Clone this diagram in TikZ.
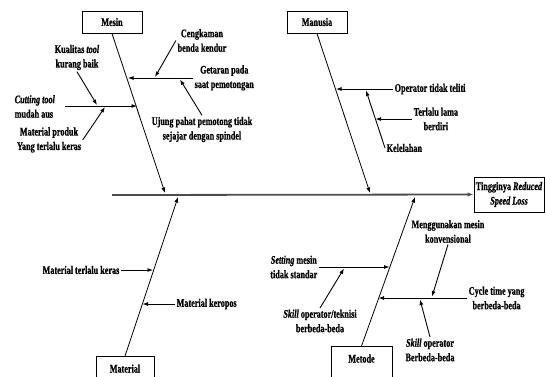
\documentclass[tikz,border=0pt]{standalone}
\usepackage{fontspec}
\setmainfont{Liberation Serif}[FakeStretch=0.71, BoldFeatures={FakeBold=0.8}, BoldItalicFeatures={FakeBold=0.8}]
\usepackage{tikz}
\usetikzlibrary {arrows.meta}
\usetikzlibrary{calc}

\tikzset{
	teks/.style={font=\fontsize{11.5}{14.5}\selectfont\bfseries, align=center, inner sep=1.5pt},
	kotak/.style={teks, draw, line width=1pt, minimum width=60pt, minimum height=22pt, inner sep=0pt},
	kotakbawah/.style={kotak, anchor=north, text height=14pt, text depth=24pt, inner ysep=2pt},
	panah/.style={-{Latex[length=5.5pt,width=4pt]}, line width=0.9pt},
	tulang/.style={-{Latex[length=5.5pt,width=4pt]}, line width=0.8pt},
}

\begin{document}
\begin{tikzpicture}[x=1pt, y=-1pt]
	\useasboundingbox (0, 0) rectangle (545, 376);

	\node[kotak, minimum width=70pt, minimum height=35pt] (akibat) at (509, 194.5) {Tingginya \textit{Reduced}\\\textit{Speed Loss}};
	\coordinate (ekor) at (112, 195);
	\draw[-{Latex[length=6pt,width=4.5pt]}, line width=1.8pt, black!70] (ekor) -- (akibat.west);

	\node[kotak] (mesin) at (112, 22) {Mesin};
	\node[kotak] (manusia) at (317, 22) {Manusia};
	\node[kotakbawah, minimum width=58pt] (material) at (125, 356) {Material};
	\node[kotakbawah, minimum width=61pt] (metode) at (361.5, 346) {Metode};

	\coordinate (m) at (165, 193);
	\coordinate (n) at (370, 193);
	\coordinate (k) at (178, 197);
	\coordinate (d) at (415, 197);
	\draw[tulang] (mesin.south) -- (m);
	\draw[tulang] (manusia.south) -- (n);
	\draw[tulang] (material.north) -- (k);
	\draw[tulang] (metode.north) -- (d);

	\node[teks, anchor=west] (getaran) at (193, 78) {Getaran pada\\saat pemotongan};
	\coordinate (m1) at (128, 78);
	\draw[panah] (getaran.west) -- (m1);
	\node[teks] (cengkaman) at (202, 40.5) {Cengkaman\\benda kendur};
	\coordinate (m1a) at (155, 77);
	\draw[panah] (cengkaman.west) -- (m1a);
	\node[teks] (ujung) at (202, 129.5) {Ujung pahat pemotong tidak\\sejajar dengan spindel};
	\coordinate (m1b) at (180, 79.5);
	\draw[panah] (ujung.north) -- (m1b);

	\node[teks, align=left, anchor=west] (cutting) at (13, 106.5) {\textit{Cutting tool}\\mudah aus};
	\coordinate (c0) at (65, 106);
	\coordinate (m2) at (137, 106);
	\draw[panah] (c0) -- (m2);
	\node[teks] (kualitas) at (77, 57.5) {Kualitas \textit{tool}\\kurang baik};
	\coordinate (m2a) at (97, 105);
	\draw[panah] (kualitas.south) -- (m2a);
	\node[teks] (produk) at (49, 140) {Material produk\\Yang terlalu keras};
	\coordinate (m2b) at (105, 107);
	\draw[panah] (produk.east) -- (m2b);

	\node[teks, anchor=west] (operator) at (393, 89) {Operator tidak teliti};
	\coordinate (n1) at (336, 89);
	\draw[panah] (operator.west) -- (n1);
	\node[teks, anchor=west] (kelelahan) at (385, 148) {Kelelahan};
	\coordinate (n1a) at (366, 90.5);
	\draw[panah] (kelelahan.west) -- (n1a);
	\node[teks, anchor=west] (terlalu) at (412, 119) {Terlalu lama\\berdiri};
	\coordinate (n1b) at (375.5, 119);
	\draw[panah] (terlalu.west) -- (n1b);

	\node[teks, anchor=east] (keras) at (121, 270) {Material terlalu keras};
	\coordinate (k1) at (153, 270);
	\draw[panah] (keras.east) -- (k1);
	\node[teks, anchor=west] (keropos) at (175, 304) {Material keropos};
	\coordinate (k2) at (142.5, 304);
	\draw[panah] (keropos.west) -- (k2);

	\node[teks, anchor=east] (setting) at (319, 267) {\textit{Setting} mesin\\tidak standar};
	\coordinate (d1) at (389.5, 267);
	\draw[panah] (setting.east) -- (d1);
	\node[teks] (skilla) at (320, 321) {\textit{Skill} operator/teknisi\\berbeda-beda};
	\coordinate (d1a) at (344, 268.5);
	\draw[panah] (skilla.north) -- (d1a);

	\node[teks, anchor=west] (cycle) at (467, 298) {Cycle time yang\\berbeda-beda};
	\coordinate (d2) at (378.5, 298);
	\draw[panah] (cycle.west) -- (d2);
	\node[teks] (menggunakan) at (448, 231.5) {Menggunakan mesin\\konvensional};
	\coordinate (d2a) at (432, 296.5);
	\draw[panah] (menggunakan.south) -- (d2a);
	\node[teks] (skillb) at (430, 350) {\textit{Skill} operator\\Berbeda-beda};
	\coordinate (d2b) at (420, 299.5);
	\draw[panah] (skillb.north) -- (d2b);
\end{tikzpicture}
\end{document}
